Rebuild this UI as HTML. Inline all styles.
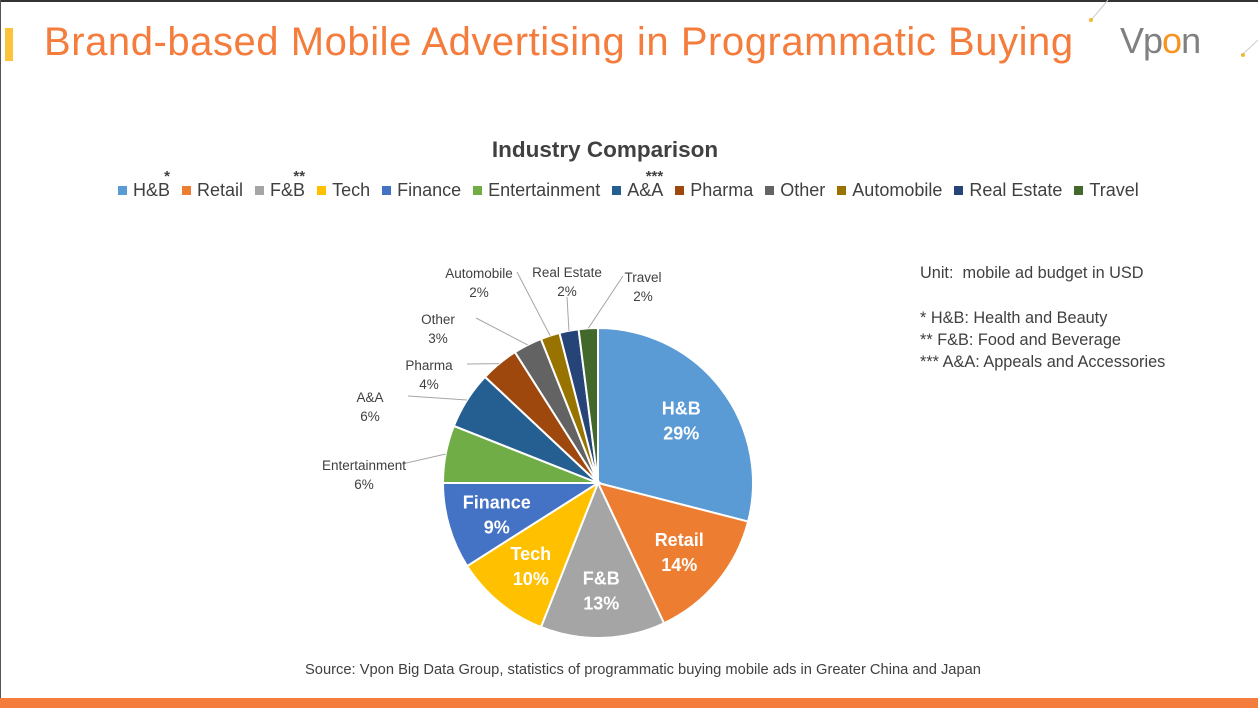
<!DOCTYPE html>
<html><head><meta charset="utf-8"><style>
body{margin:0;width:1258px;height:708px;overflow:hidden;background:#fff;font-family:"Liberation Sans","DejaVu Sans",sans-serif;position:relative}
.abs{position:absolute}
</style></head><body>
<div class="abs" style="left:0;top:0;width:1258px;height:2px;background:#333"></div>
<div class="abs" style="left:0;top:0;width:1px;height:708px;background:#555"></div>
<div class="abs" style="left:5px;top:28px;width:8px;height:33px;background:#fdc33b"></div>
<div class="abs" style="left:44px;top:20px;font-size:40px;color:#f47c3c;white-space:nowrap;letter-spacing:0.55px">Brand-based Mobile Advertising in Programmatic Buying</div>
<div class="abs" style="left:1120px;top:20px;font-size:36px;color:#808080;letter-spacing:-1px">Vp<span style="color:#f7931e">o</span>n</div>
<svg class="abs" style="left:0;top:0" width="1258" height="708">
<line x1="1108" y1="0" x2="1092" y2="19" stroke="#ccc"/><circle cx="1091" cy="20" r="2" fill="#f7b733"/>
<line x1="1258" y1="40" x2="1243" y2="54" stroke="#ccc"/><circle cx="1243" cy="55" r="2" fill="#f7b733"/>
</svg>
<div class="abs" style="left:0;width:1210px;top:137px;text-align:center;font-size:22.5px;font-weight:bold;color:#404040">Industry Comparison</div>
<div class="abs" id="legend" style="left:118px;top:180px;font-size:18px;color:#404040;white-space:nowrap"></div>
<div class="abs" style="left:920px;top:262px;font-size:16.3px;color:#404040;line-height:22px">
<div>Unit:&nbsp; mobile ad budget in USD</div>
<div style="height:23px"></div>
<div>* H&amp;B: Health and Beauty</div>
<div>** F&amp;B: Food and Beverage</div>
<div>*** A&amp;A: Appeals and Accessories</div>
</div>
<svg class="abs" id="pie" style="left:0;top:0" width="1258" height="708"></svg>
<div class="abs" style="left:0;width:1286px;top:662px;text-align:center;font-size:14.7px;color:#404040">Source: Vpon Big Data Group, statistics of programmatic buying mobile ads in Greater China and Japan</div>
<div class="abs" style="left:0;top:698px;width:1258px;height:10px;background:#f47c3c"></div>
<script>
const categories=["H&B","Retail","F&B","Tech","Finance","Entertainment","A&A","Pharma","Other","Automobile","Real Estate","Travel"];
const values=[29,14,13,10,9,6,6,4,3,2,2,2];
const legendMarks=["*","","**","","","","***","","","","",""];
const colors=["#5b9bd5","#ed7d31","#a5a5a5","#ffc000","#4472c4","#70ad47","#255e91","#9e480e","#636363","#997300","#264478","#43682b"];
const inside=[true,true,true,true,true,false,false,false,false,false,false,false];
// outside label anchor layout (pixels), keyed by category
const outPos={"Entertainment":[364,470],"A&A":[370,402],"Pharma":[429,370],"Other":[438,324],"Automobile":[479,278],"Real Estate":[567,277],"Travel":[643,282]};
const cx=598,cy=483,r=155,NS="http://www.w3.org/2000/svg";
const svg=document.getElementById('pie');
const total=values.reduce((a,b)=>a+b,0);
function pt(a,rad){return [cx+rad*Math.sin(a),cy-rad*Math.cos(a)];}
let a0=0;
values.forEach((v,i)=>{
  const a1=a0+v/total*2*Math.PI;
  const p0=pt(a0,r),p1=pt(a1,r);
  const path=document.createElementNS(NS,'path');
  path.setAttribute('d',`M${cx},${cy}L${p0[0]},${p0[1]}A${r},${r} 0 ${a1-a0>Math.PI?1:0} 1 ${p1[0]},${p1[1]}Z`);
  path.setAttribute('fill',colors[i]);path.setAttribute('stroke','#fff');path.setAttribute('stroke-width','2');
  
  
  svg.appendChild(path);
  const am=(a0+a1)/2;
  if(inside[i]){
    const c=pt(am,r*0.68);
    [[categories[i],-4],[v+'%',21]].forEach(([t,dy])=>{
      const tx=document.createElementNS(NS,'text');
      tx.setAttribute('x',c[0]);tx.setAttribute('y',c[1]+dy);tx.setAttribute('text-anchor','middle');
      tx.setAttribute('fill','#fff');tx.setAttribute('font-size','18');tx.setAttribute('font-weight','bold');
      tx.setAttribute('font-family','Liberation Sans, sans-serif');
      
      
      tx.textContent=t;svg.appendChild(tx);
    });
  } else {
    const lp=outPos[categories[i]]||pt(am,r+40);
    const e=pt(am,r);
    const ln=document.createElementNS(NS,'polyline');
    const right=lp[0]>cx;
    const lx=right?lp[0]-20:lp[0]+ (categories[i]==="Real Estate"?0:38);
    const ly=categories[i]==="Real Estate"?lp[1]+20:lp[1]-6;
    ln.setAttribute('points',`${e[0]},${e[1]} ${lx},${ly}`);
    ln.setAttribute('stroke','#a6a6a6');ln.setAttribute('fill','none');
    
    
    svg.appendChild(ln);
    [[categories[i],0],[v+'%',19]].forEach(([t,dy])=>{
      const tx=document.createElementNS(NS,'text');
      tx.setAttribute('x',lp[0]);tx.setAttribute('y',lp[1]+dy);tx.setAttribute('text-anchor','middle');
      tx.setAttribute('fill','#404040');tx.setAttribute('font-size','13.5');
      tx.setAttribute('font-family','Liberation Sans, sans-serif');
      
      
      tx.textContent=t;svg.appendChild(tx);
    });
  }
  a0=a1;
});
const lg=document.getElementById('legend');
categories.forEach((c,i)=>{
  const s=document.createElement('span');
  
  
  s.style.marginRight='12px';s.style.position='relative';
  s.innerHTML=`<span style="display:inline-block;width:9px;height:9px;background:${colors[i]};margin-right:6px;vertical-align:1px"></span>${c.replace('&','&amp;')}`+(legendMarks[i]?`<span style="position:absolute;right:0;top:-12px;font-size:15px;font-weight:bold">${legendMarks[i]}</span>`:'');
  lg.appendChild(s);
});
</script>
</body></html>
